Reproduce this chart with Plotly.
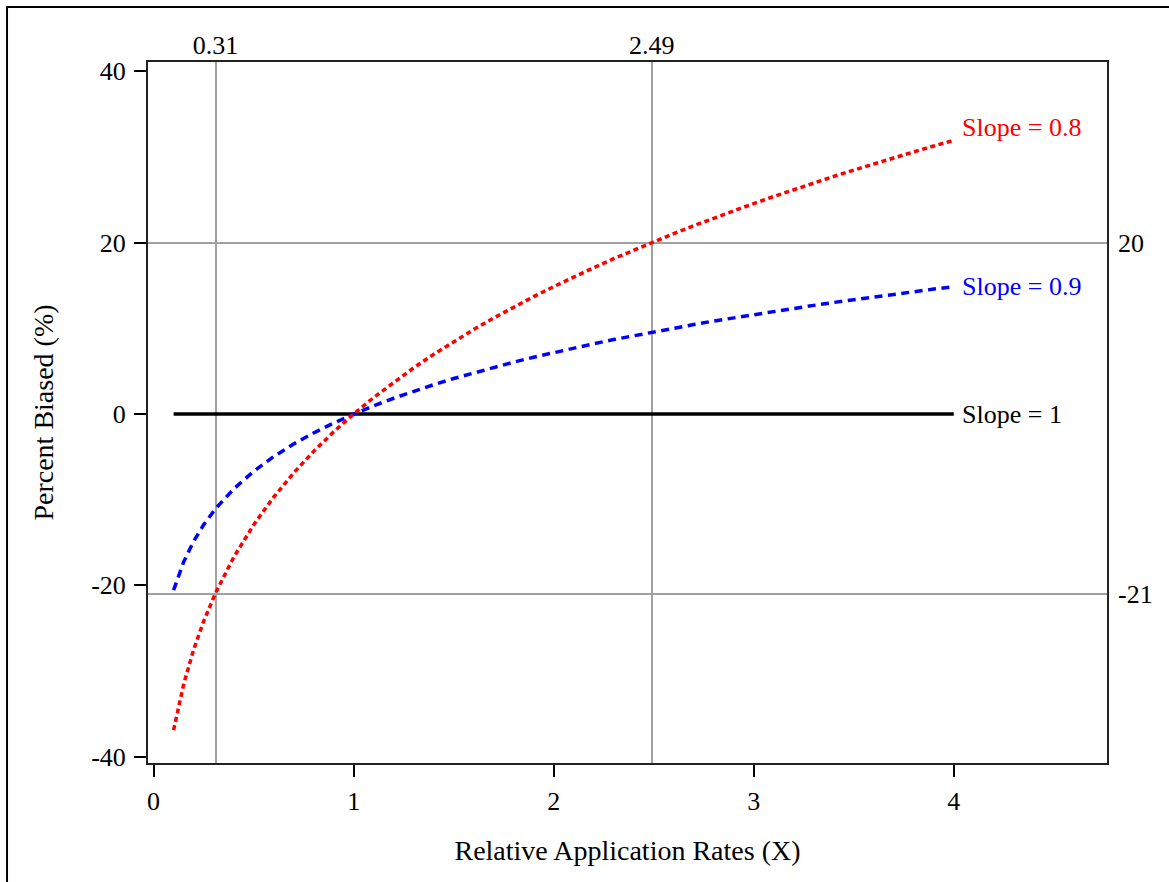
import plotly.graph_objects as go

# Relative application rate (X)
x_vals = [0.1, 0.15, 0.2, 0.25, 0.31, 0.4, 0.5, 0.6, 0.7, 0.8, 0.9, 1.0,
          1.1, 1.2, 1.3, 1.4, 1.5, 1.6, 1.7, 1.8, 1.9, 2.0,
          2.1, 2.2, 2.3, 2.4, 2.49, 2.6, 2.7, 2.8, 2.9, 3.0,
          3.1, 3.2, 3.3, 3.4, 3.5, 3.6, 3.7, 3.8, 3.9, 4.0]

# Percent biased (%) per slope
bias_slope_08 = [-36.90, -31.58, -27.52, -24.21, -20.88, -16.74, -12.94, -9.71, -6.89, -4.36, -2.09, 0.0,
                 1.92, 3.71, 5.39, 6.96, 8.45, 9.86, 11.20, 12.47, 13.70, 14.87,
                 16.00, 17.08, 18.13, 19.14, 20.02, 21.06, 21.98, 22.87, 23.73, 24.57,
                 25.39, 26.19, 26.97, 27.73, 28.47, 29.20, 29.91, 30.60, 31.28, 31.95]
bias_slope_09 = [-20.57, -17.28, -14.87, -12.94, -11.05, -8.76, -6.70, -4.98, -3.50, -2.21, -1.05, 0.0,
                 0.96, 1.84, 2.66, 3.42, 4.14, 4.81, 5.45, 6.05, 6.63, 7.18,
                 7.70, 8.20, 8.69, 9.15, 9.55, 10.03, 10.44, 10.85, 11.23, 11.61,
                 11.98, 12.34, 12.68, 13.02, 13.35, 13.67, 13.98, 14.28, 14.58, 14.87]
bias_slope_1 = [0.0] * len(x_vals)

series_names = ["Slope = 0.8", "Slope = 0.9", "Slope = 1"]

# Reference lines
ref_x = [0.31, 2.49]
ref_x_labels = ["0.31", "2.49"]
ref_y = [20, -21]
ref_y_labels = ["20", "-21"]

x_ticks = [0, 1, 2, 3, 4]
y_ticks = [-40, -20, 0, 20, 40]

FONT = "Liberation Serif, Times New Roman, serif"
FS = 26
TFS = 28

fig = go.Figure()

fig.add_trace(go.Scatter(x=x_vals, y=bias_slope_1, mode="lines", name=series_names[2],
                         line=dict(color="black", width=3.5)))
fig.add_trace(go.Scatter(x=x_vals, y=bias_slope_09, mode="lines", name=series_names[1],
                         line=dict(color="#0000ff", width=3.5, dash="8px,5.5px")))
fig.add_trace(go.Scatter(x=x_vals, y=bias_slope_08, mode="lines", name=series_names[0],
                         line=dict(color="#ff0000", width=3.5, dash="5px,3.5px")))

# invisible trace to anchor secondary axes
fig.add_trace(go.Scatter(x=[ref_x[0]], y=[ref_y[0]], xaxis="x2", yaxis="y2",
                         mode="markers", marker=dict(opacity=0), hoverinfo="skip",
                         showlegend=False))

xr = [-0.028, 4.766]
yr = [-40.74, 41.09]

fig.update_layout(
    width=1169, height=882,
    margin=dict(l=148, r=62, t=62, b=119),
    paper_bgcolor="white", plot_bgcolor="white",
    showlegend=False,
    font=dict(family=FONT, size=FS, color="black"),
    xaxis=dict(range=xr, tickvals=x_ticks, ticktext=[str(v) for v in x_ticks],
               showgrid=False, zeroline=False, showline=True, linecolor="#222222",
               linewidth=2, mirror=True, ticks="outside", ticklen=12, tickwidth=2,
               tickcolor="black", ticklabelstandoff=2,
               title=dict(text="Relative Application Rates (X)", standoff=25,
                          font=dict(family=FONT, size=TFS))),
    yaxis=dict(range=yr, tickvals=y_ticks, ticktext=[str(v) for v in y_ticks],
               showgrid=False, zeroline=False, showline=True, linecolor="#222222",
               linewidth=2, mirror=True, ticks="outside", ticklen=12, tickwidth=2,
               tickcolor="black", ticklabelstandoff=3,
               title=dict(text="Percent Biased (%)", standoff=29,
                          font=dict(family=FONT, size=TFS))),
    xaxis2=dict(range=xr, overlaying="x", side="top", anchor="y",
                tickvals=ref_x, ticktext=ref_x_labels, ticks="",
                showgrid=True, gridcolor="#a0a0a0", gridwidth=2,
                zeroline=False, showline=False, ticklabelstandoff=2),
    yaxis2=dict(range=yr, overlaying="y", side="right", anchor="x",
                tickvals=ref_y, ticktext=ref_y_labels, ticks="",
                showgrid=True, gridcolor="#a0a0a0", gridwidth=2,
                zeroline=False, showline=False, ticklabelstandoff=10),
)

label_colors = ["#ff0000", "#0000ff", "black"]
label_ys = [bias_slope_08[-1], bias_slope_09[-1], bias_slope_1[-1]]
label_shifts = [13, 0, 0]
for name, col, yv, sh in zip(series_names, label_colors, label_ys, label_shifts):
    fig.add_annotation(x=x_vals[-1], y=yv, text=name, showarrow=False,
                       xanchor="left", yanchor="middle", xshift=6, yshift=sh,
                       font=dict(family=FONT, size=FS, color=col))

# outer frame
fig.add_shape(type="rect", xref="paper", yref="paper",
              x0=-0.147, x1=1.2, y0=-0.3, y1=1.0785,
              line=dict(color="black", width=2), fillcolor="rgba(0,0,0,0)", layer="below")

fig.write_html("out.html", config={"displayModeBar": False},
               post_script="document.body.style.margin='0';document.body.style.overflow='hidden';")
